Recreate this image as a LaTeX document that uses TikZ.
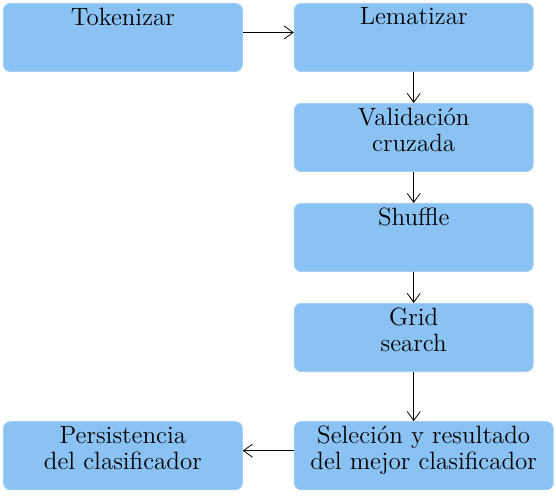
\documentclass[tikz,border=0pt]{standalone}
\usepackage{tikz}
\usetikzlibrary{positioning,arrows.meta}
\definecolor{StageBlue}{HTML}{8AC3F3}
\definecolor{StageEdge}{HTML}{A3CFF5}
\newcommand{\stagetext}[2][115pt]{\parbox[c][29.6pt][t]{#1}{\centering #2}}

\begin{document}
\begin{tikzpicture}[node distance=15.5pt and 25.5pt, every node/.style={align=center, font=\fontsize{12.5}{13}\selectfont}]
      \useasboundingbox (0,0) rectangle (278pt,-248pt);
      \tikzset{stagebox/.style={draw=StageEdge, fill=StageBlue, rounded corners=3.5pt, minimum width=119.2pt, minimum height=34.1pt, inner sep=2.25pt}}
      % Nodes
      \node[stagebox, anchor=north west] (tokenizar) at (1.5pt,-1.5pt) {\stagetext{Tokenizar}};
      \node[stagebox, right=of tokenizar] (lematizar) {\stagetext{Lematizar}};
      \node[stagebox, below=of lematizar] (validacion) {\stagetext{Validación\\cruzada}};
      \node[stagebox, below=of validacion] (shuffle) {\stagetext{Shuffle}};
      \node[stagebox, below=of shuffle] (grid) {\stagetext{Grid\\search}};
      \node[stagebox, minimum width=129.2pt, below=24.6pt of grid.south west, anchor=north west] (seleccion) {\stagetext[125pt]{Seleción y resultado\\del mejor clasificador}};
      \node[stagebox, left=of seleccion] (persistencia) {\stagetext{Persistencia\\del clasificador}};
      % Arrows
      \draw[-{Straight Barb[length=4.5pt,width=6.5pt]}] ([yshift=2.5pt]tokenizar.east) -- ([yshift=2.5pt]lematizar.west);
      \draw[-{Straight Barb[length=4.5pt,width=6.5pt]}] (lematizar) -- (validacion);
      \draw[-{Straight Barb[length=4.5pt,width=6.5pt]}] (validacion) -- (shuffle);
      \draw[-{Straight Barb[length=4.5pt,width=6.5pt]}] (shuffle) -- (grid);
      \draw[-{Straight Barb[length=4.5pt,width=6.5pt]}] (grid) -- (grid |- seleccion.north);
      \draw[-{Straight Barb[length=4.5pt,width=6.5pt]}] ([yshift=2.5pt]seleccion.west) -- ([yshift=2.5pt]persistencia.east);
    \end{tikzpicture}
\end{document}
